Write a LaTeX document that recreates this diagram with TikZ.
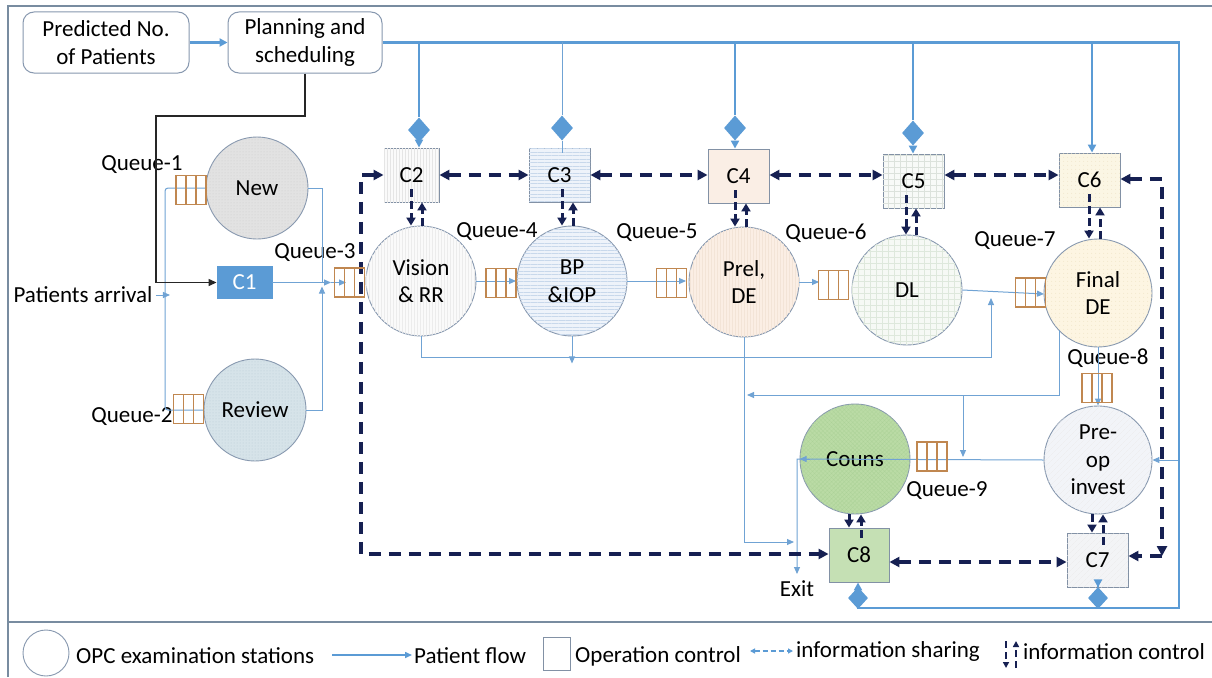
\documentclass[tikz,border=0pt]{standalone}
\usepackage{fontspec}
\setmainfont{Carlito}
\usetikzlibrary{arrows.meta,shapes.geometric,patterns,patterns.meta,calc}
\definecolor{flowblue}{RGB}{91,155,213}
\definecolor{thinblue}{RGB}{112,163,212}
\definecolor{navy}{RGB}{22,32,82}
\definecolor{qbrown}{RGB}{192,135,80}
\definecolor{stb}{RGB}{135,152,175}
\definecolor{boxb}{RGB}{130,145,165}
\definecolor{framec}{RGB}{120,140,160}
\newcommand\dfont{\fontsize{23}{27.5}\selectfont}
\begin{document}
\begin{tikzpicture}[x=1pt,y=-1pt,font=\dfont,
  station/.style={circle, draw=stb, line width=0.9pt, inner sep=0pt, align=center},
  cb/.style={rectangle, draw=boxb, line width=0.9pt, inner sep=0pt, minimum height=54pt},
  rb/.style={rectangle, rounded corners=11pt, draw=stb, line width=1pt, align=center, inner sep=0pt},
  qbox/.style={rectangle, draw=qbrown, line width=1.1pt, minimum width=30pt, minimum height=29pt, inner sep=0pt,
    path picture={\foreach \f in {0.333,0.667}{\draw[qbrown,line width=1.1pt]
      ($(path picture bounding box.south west)!\f!(path picture bounding box.south east)$) --
      ($(path picture bounding box.north west)!\f!(path picture bounding box.north east)$);}}},
  flow/.style={draw=thinblue, line width=1pt},
  fl/.style={flow, -{Triangle[length=7pt,width=6pt]}},
  thk/.style={draw=flowblue, line width=2.3pt},
  thka/.style={thk, -{Triangle[length=8pt,width=8pt]}},
  blka/.style={draw=black!85, line width=1.3pt, -{Triangle[length=8pt,width=7pt]}},
  info/.style={draw=navy, line width=3.4pt, dash pattern=on 12pt off 8pt},
  iboth/.style={info, {Triangle[length=10pt,width=10pt]}-{Triangle[length=10pt,width=10pt]}},
  iend/.style={info, -{Triangle[length=10pt,width=10pt]}},
  ic/.style={draw=navy, line width=3pt, dash pattern=on 8pt off 4pt, -{Triangle[length=8pt,width=9pt]}},
  dia/.style={diamond, fill=flowblue, inner sep=0pt, minimum width=22pt, minimum height=25pt}
]
\useasboundingbox (0,0) rectangle (1212,677);
\fill[white] (0,0) rectangle (1212,677);
% frame
\draw[framec, line width=1.2pt] (8,677) -- (8,6) -- (1212,6);
\draw[framec, line width=1.2pt] (8,622) -- (1212,622);

% top boxes
\node[rb, minimum width=166pt, minimum height=61pt] (pred) at (106,42.5) {Predicted No.\\of Patients};
\node[rb, minimum width=154pt, minimum height=61pt] (plan) at (305,42.5) {Planning and\\scheduling};

% stations
\node[station, minimum size=102pt, fill={rgb,255:red,226;green,226;blue,226},
  postaction={pattern={Dots[distance=3pt,radius=0.5pt]}, pattern color=gray!40}] (new) at (257,188) {New};
\node[station, minimum size=102pt, fill={rgb,255:red,214;green,227;blue,233},
  postaction={pattern={Dots[distance=3pt,radius=0.5pt]}, pattern color={rgb,255:red,185;green,204;blue,213}}] (rev) at (255,410) {Review};
\node[station, minimum size=110pt, fill={rgb,255:red,250;green,250;blue,250},
  postaction={pattern={Lines[angle=90,distance=3pt,line width=0.3pt]}, pattern color=gray!15}] (vis) at (421,281) {Vision\\\& RR};
\node[station, minimum size=110pt, fill={rgb,255:red,238;green,243;blue,250},
  postaction={pattern={Lines[angle=0,distance=3.5pt,line width=0.4pt]}, pattern color={rgb,255:red,200;green,216;blue,235}}] (bp) at (572,281) {BP\\\&IOP};
\node[station, minimum size=110pt, fill={rgb,255:red,251;green,238;blue,228},
  postaction={pattern={Lines[angle=90,distance=3pt,line width=0.3pt]}, pattern color={rgb,255:red,243;green,228;blue,215}}] (prel) at (744,282) {Prel,\\DE};
\node[station, minimum size=110pt, fill={rgb,255:red,246;green,249;blue,245},
  postaction={pattern={Hatch[angle=0,distance=6pt,line width=0.3pt]}, pattern color={rgb,255:red,222;green,232;blue,220}}] (dl) at (907,290) {DL};
\node[station, minimum size=108pt, fill={rgb,255:red,253;green,245;blue,226},
  postaction={pattern={Dots[distance=4pt,radius=0.5pt]}, pattern color={rgb,255:red,238;green,226;blue,195}}] (fin) at (1098,293) {Final\\DE};
\node[station, minimum size=108pt, fill={rgb,255:red,242;green,244;blue,248},
  postaction={pattern={Lines[angle=45,distance=4pt,line width=0.3pt]}, pattern color=gray!15}] (pre) at (1098,460) {Pre-\\op\\invest};
\node[station, minimum size=110pt, fill={rgb,255:red,186;green,219;blue,165},
  postaction={pattern={Hatch[angle=45,distance=3pt,line width=0.25pt]}, pattern color={rgb,255:red,172;green,210;blue,152}}] (cou) at (855,459) {Couns};

% control boxes
\node[cb, minimum width=55pt, minimum height=32pt, fill=flowblue, draw=flowblue, text=white] (c1) at (244.5,282.5) {C1};
\node[cb, minimum width=55pt, fill={rgb,255:red,250;green,250;blue,250},
  postaction={pattern={Lines[angle=90,distance=3pt,line width=0.3pt]}, pattern color=gray!20}] (c2) at (411.5,175) {C2};
\node[cb, minimum width=61pt, fill={rgb,255:red,238;green,243;blue,250},
  postaction={pattern={Lines[angle=0,distance=3.5pt,line width=0.4pt]}, pattern color={rgb,255:red,200;green,216;blue,235}}] (c3) at (559.5,175) {C3};
\node[cb, minimum width=61pt, fill={rgb,255:red,250;green,238;blue,229}] (c4) at (738.5,176) {C4};
\node[cb, minimum width=61pt, fill={rgb,255:red,248;green,250;blue,248},
  postaction={pattern={Hatch[angle=0,distance=6pt,line width=0.3pt]}, pattern color={rgb,255:red,220;green,226;blue,220}}] (c5) at (913.5,181) {C5};
\node[cb, minimum width=61pt, fill={rgb,255:red,251;green,246;blue,228},
  postaction={pattern={Dots[distance=4pt,radius=0.5pt]}, pattern color={rgb,255:red,238;green,226;blue,198}}] (c6) at (1089.5,180) {C6};
\node[cb, minimum width=61pt, fill={rgb,255:red,243;green,244;blue,246},
  postaction={pattern={Lines[angle=45,distance=4pt,line width=0.3pt]}, pattern color=gray!15}] (c7) at (1097.5,560) {C7};
\node[cb, minimum width=60pt, fill={rgb,255:red,197;green,224;blue,180}] (c8) at (859,555) {C8};

% texts
\node (pa) at (83,295) {Patients arrival};
\node (exitt) at (797,589) {Exit};
\node at (142,165) {Queue-1};
\node at (132,417) {Queue-2};
\node at (315,253) {Queue-3};
\node at (497,232) {Queue-4};
\node at (657,233) {Queue-5};
\node at (826,233) {Queue-6};
\node at (1015,241) {Queue-7};
\node at (1108,358) {Queue-8};
\node at (947,491) {Queue-9};

% patient flow (thin)
\coordinate (xa) at (165,0);
\coordinate (j3) at (322,282.5);
\draw[fl] (pa.east) -- ++(14,0);
\draw[flow, rounded corners=3pt] (new.west) -| (xa |- rev.west) -- (rev.west);
\draw[flow] (new.east) -| (j3);
\draw[fl] (rev.east) -| ([yshift=-4pt]j3);
\draw[fl] (c1.east) -- ([xshift=9pt]j3);
\draw[fl] ([xshift=9pt]j3) -- (346,282.5);
\draw[fl] (vis.east) -- (vis.east -| 516,0);
\draw[fl] (bp.east) -- (bp.east -| 686,0);
\draw[fl] (prel.east) -- (prel.east -| 819,0);
\draw[fl] (dl.east) -- (1044,294);
\coordinate (vb) at (991,298);
\draw[fl] (vis.south) -- ++(0,21) -| (vb);
\draw[fl] (bp.south) -- ++(0,27);
\coordinate (ex) at (794,542);
\draw[fl] (prel.south) |- (ex);
\coordinate (fa) at (1059,330);
\coordinate (fb) at (747,395);
\coordinate (fbr) at (963,395);
\draw[fl] (fa) |- (fb);
\draw[fl] (fbr) -- ++(0,62);
\draw[fl] (fin.south) -- (pre.north);
\coordinate (rpre) at (1179,460);
\draw[fl] (rpre) -- (pre.east);
\coordinate (xc) at (797,459);
\coordinate (exitp) at (797,574);
\draw[fl] (pre.west) -- (xc) -- (exitp);
\draw[fl] ([xshift=10pt]cou.west) -- (cou.west);

% black control line
\coordinate (bk) at (156,116);
\draw[blka] (plan.south) |- (bk) |- (c1.west);

% thick planning lines
\coordinate (tr) at (1179,42.5);
\coordinate (br) at (1179,608);
\node[dia] (d2) at (419,130) {};
\node[dia] (d3) at (562,128) {};
\node[dia] (d4) at (735,128) {};
\node[dia] (d5) at (913,133) {};
\node[dia, minimum width=20pt, minimum height=22pt] (d8) at (858,598) {};
\node[dia, minimum width=20pt, minimum height=22pt] (d7) at (1098,598) {};
\draw[thka] (pred.east) -- (plan.west);
\draw[thk] (plan.east) -- (tr) -- (br) -- (d8 |- br);
\draw[thk] (d2 |- plan.east) -- (d2.north);
\draw[thka] (d2.south) -- (d2.south |- c2.north);
\draw[flow] (d3 |- plan.east) -- (d3.north);
\draw[flow] (d3.south) -- ([yshift=-5pt]d3.south |- c3.north);
\draw[thk] (d4 |- plan.east) -- (d4.north);
\draw[thka] (d4.south) -- (d4.south |- c4.north);
\draw[thk] (d5 |- plan.east) -- (d5.north);
\draw[thka] (d5.south) -- (d5.south |- c5.north);
\coordinate (c6t) at (1092,42.5);
\draw[thka] (c6t) -- (c6t |- c6.north);
\draw[thk] (d8 |- br) -- (d8.south);
\draw[thka] (d8.north) -- (d8.north |- c8.south);
\draw[thk] (d7 |- br) -- (d7.south);
\draw[thka] (d7.north) -- (d7.north |- c7.south);

% information sharing
\coordinate (iy) at (0,175);
\draw[iboth] (c2.east |- iy) -- (c3.west |- iy);
\draw[iboth] (c3.east |- iy) -- (c4.west |- iy);
\draw[iboth] (c4.east |- iy) -- (c5.west |- iy);
\draw[iboth] (c5.east |- iy) -- (c6.west |- iy);
\coordinate (ilt) at (361,175);
\coordinate (ilb) at (361,554);
\draw[iboth] (c2.west |- ilt) -- (ilt) -- (ilb) -- (c8.west |- ilb);
\coordinate (irt) at (1162,179);
\coordinate (irb) at (1162,556);
\draw[iboth] (c6.east |- irt) -- (irt) -- (irb);
\draw[iend] (irb) -- (c7.east |- irb);
\coordinate (i87) at (0,562);
\draw[iboth] (c8.east |- i87) -- (c7.west |- i87);

% information control
\draw[ic] (411,0 |- c2.south) ++(0,-13) -- (411,0 |- vis.north);
\draw[ic] (422,0 |- vis.north) -- (422,0 |- c2.south);
\draw[ic] (562,0 |- c3.south) ++(0,-13) -- (562,0 |- bp.north);
\draw[ic] (573,0 |- bp.north) -- (573,0 |- c3.south);
\draw[ic] (735,0 |- c4.south) ++(0,-13) -- (735,0 |- prel.north);
\draw[ic] (746,0 |- prel.north) -- (746,0 |- c4.south);
\draw[ic] (906,0 |- c5.south) ++(0,-13) -- (906,0 |- dl.north);
\draw[ic] (916,0 |- dl.north) -- (916,0 |- c5.south);
\draw[ic] (1089,0 |- c6.south) ++(0,-13) -- (1089,0 |- fin.north);
\draw[ic] (1100,0 |- fin.north) -- (1100,0 |- c6.south);
\draw[ic] (849,0 |- cou.south) -- (849,0 |- c8.north);
\draw[ic] (861,0 |- c8.north) ++(0,10) -- (861,0 |- cou.south);
\draw[ic] (1092,0 |- pre.south) -- (1092,0 |- c7.north);
\draw[ic] (1103,0 |- c7.north) ++(0,12) -- (1103,0 |- pre.south);

% queues
\node[qbox] (q1) at (191,190) {};
\node[qbox] (q2) at (188.5,409) {};
\node[qbox] (q3) at (349.5,282.5) {};
\node[qbox] (q4) at (501,283) {};
\node[qbox] (q5) at (671.5,283) {};
\node[qbox] (q6) at (833.5,285) {};
\node[qbox] (q7) at (1030.5,292.5) {};
\node[qbox] (q8) at (1097,388) {};
\node[qbox] (q9) at (932,456.5) {};

% legend
\node[circle, draw=stb, line width=0.9pt, minimum size=46pt, inner sep=0pt] (lgc) at (46,653) {};
\node[anchor=west, inner sep=0pt] (lgt1) at (76,656) {OPC examination stations};
\coordinate (lfa) at (332,655);
\coordinate (lfb) at (412,655);
\draw[flowblue, line width=1.5pt, -{Triangle[length=7pt,width=6pt]}] (lfa) -- (lfb);
\node[anchor=west, inner sep=0pt] (lgt2) at (414,656) {Patient flow};
\node[rectangle, draw=boxb, line width=0.9pt, minimum width=27pt, minimum height=33pt, inner sep=0pt] (lgs) at (556.5,653.5) {};
\node[anchor=west, inner sep=0pt] (lgt3) at (575,656) {Operation control};
\coordinate (lia) at (750,651);
\coordinate (lib) at (793,651);
\draw[flowblue, line width=1.5pt, dash pattern=on 5pt off 3pt, {Triangle[length=5pt,width=5pt]}-{Triangle[length=5pt,width=5pt]}] (lia) -- (lib);
\node[anchor=west, inner sep=0pt] (lgt4) at (796,651) {information sharing};
\coordinate (lca) at (1006,641);
\coordinate (lcb) at (1006,668);
\coordinate (lcc) at (1016,668);
\coordinate (lcd) at (1016,641);
\draw[navy, line width=2pt, dash pattern=on 7pt off 4pt, -{Triangle[length=6pt,width=6pt]}] (lca) -- (lcb);
\draw[navy, line width=2pt, dash pattern=on 7pt off 4pt, -{Triangle[length=6pt,width=6pt]}] (lcc) -- (lcd);
\node[anchor=west, inner sep=0pt] (lgt5) at (1023,652) {information control};
\end{tikzpicture}
\end{document}
